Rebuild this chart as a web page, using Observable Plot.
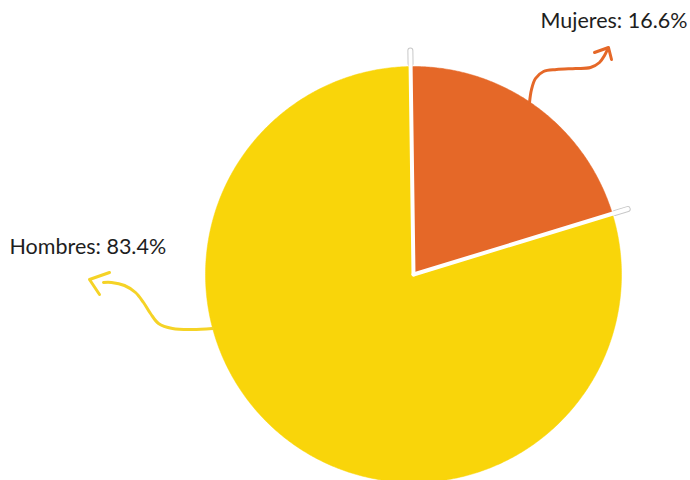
<!DOCTYPE html>
<html>
<head>
<meta charset="utf-8">
<script src="https://cdn.jsdelivr.net/npm/d3@7"></script>
<script src="https://cdn.jsdelivr.net/npm/@observablehq/plot@0.6"></script>
<style>
  html, body { margin: 0; padding: 0; background: #fff; }
  svg { display: block; }
</style>
</head>
<body>
<div id="chart"></div>
<script>
// ---- data ----
const categories = ["Mujeres", "Hombres"];
const shareLabels = [16.6, 83.4];          // percentages printed in the labels
const drawnShare = [20.5, 79.5];           // slice sizes as drawn in the reference
const colors = ["#E56828", "#F9D50A"];
const labelText = ["Mujeres: 16.6%", "Hombres: 83.4%"];

// annotation arrows (chart pixel space)
const arrowMujeresShaft = [[529,102],[531,89],[535,78],[543,71],[556,69],[575,68],[590,67],[599,62],[604,55],[607,49]];
const arrowMujeresHead  = [[594,52],[608,47],[611,59]];
const arrowHombresShaft = [[212,328],[192,329],[172,328],[158,323],[150,313],[143,302],[135,292],[124,285],[111,282],[103,282]];
const arrowHombresHead  = [[109,272],[89,279],[99,294]];
const labelPos = [[540,21],[9,247]];

// ---- layout ----
const W = 690, H = 480;
const cx = 413, cy = 274, R = 208;
const startAngle = -0.8;

function pt(deg, r) {
  const a = deg * Math.PI / 180;
  return [cx + r * Math.sin(a), cy - r * Math.cos(a)];
}

// slices as polygons
const slicePts = [];
const boundaries = [];
let a0 = startAngle;
categories.forEach((c, i) => {
  const a1 = a0 + 360 * drawnShare[i] / d3.sum(drawnShare);
  boundaries.push(a0);
  slicePts.push({cat: c, x: cx, y: cy});
  const n = Math.ceil((a1 - a0) / 0.5);
  for (let k = 0; k <= n; k++) {
    const [x, y] = pt(a0 + (a1 - a0) * k / n, R);
    slicePts.push({cat: c, x, y});
  }
  slicePts.push({cat: c, x: cx, y: cy});
  a0 = a1;
});

const sepOuter = boundaries.map(b => { const [x1,y1] = pt(b, R + 3); const [x2,y2] = pt(b, R + 16); return {x1,y1,x2,y2}; });
const sepFull  = boundaries.map(b => { const [x2,y2] = pt(b, R + 16); return {x1: cx, y1: cy, x2, y2}; });

const toObj = arr => arr.map(([x, y]) => ({x, y}));
const labels = categories.map((c, i) => ({x: labelPos[i][0], y: labelPos[i][1], text: labelText[i]}));

const chart = Plot.plot({
  width: W, height: H, margin: 0,
  x: {domain: [0, W], range: [0, W], axis: null},
  y: {domain: [0, H], range: [0, H], axis: null},
  color: {domain: categories, range: colors},
  marks: [
    Plot.line(slicePts, {x: "x", y: "y", z: "cat", fill: "cat", stroke: "cat", strokeWidth: 0.5}),
    Plot.link(sepOuter, {x1: "x1", y1: "y1", x2: "x2", y2: "y2", stroke: "#c8c8c8", strokeWidth: 6, strokeLinecap: "round"}),
    Plot.link(sepFull, {x1: "x1", y1: "y1", x2: "x2", y2: "y2", stroke: "#fff", strokeWidth: 4, strokeLinecap: "round"}),
    Plot.line(toObj(arrowMujeresShaft), {x: "x", y: "y", stroke: colors[0], strokeWidth: 3, curve: "catmull-rom", strokeLinecap: "round"}),
    Plot.line(toObj(arrowMujeresHead), {x: "x", y: "y", stroke: colors[0], strokeWidth: 3, strokeLinecap: "round", strokeLinejoin: "round"}),
    Plot.line(toObj(arrowHombresShaft), {x: "x", y: "y", stroke: "#F5D326", strokeWidth: 3, curve: "catmull-rom", strokeLinecap: "round"}),
    Plot.line(toObj(arrowHombresHead), {x: "x", y: "y", stroke: "#F5D326", strokeWidth: 3, strokeLinecap: "round", strokeLinejoin: "round"}),
    Plot.text(labels, {x: "x", y: "y", text: "text", textAnchor: "start", fontSize: 21.5, fill: "#1e1e1e", fontFamily: "Lato, sans-serif"})
  ]
});
document.getElementById("chart").appendChild(chart);
</script>
</body>
</html>
